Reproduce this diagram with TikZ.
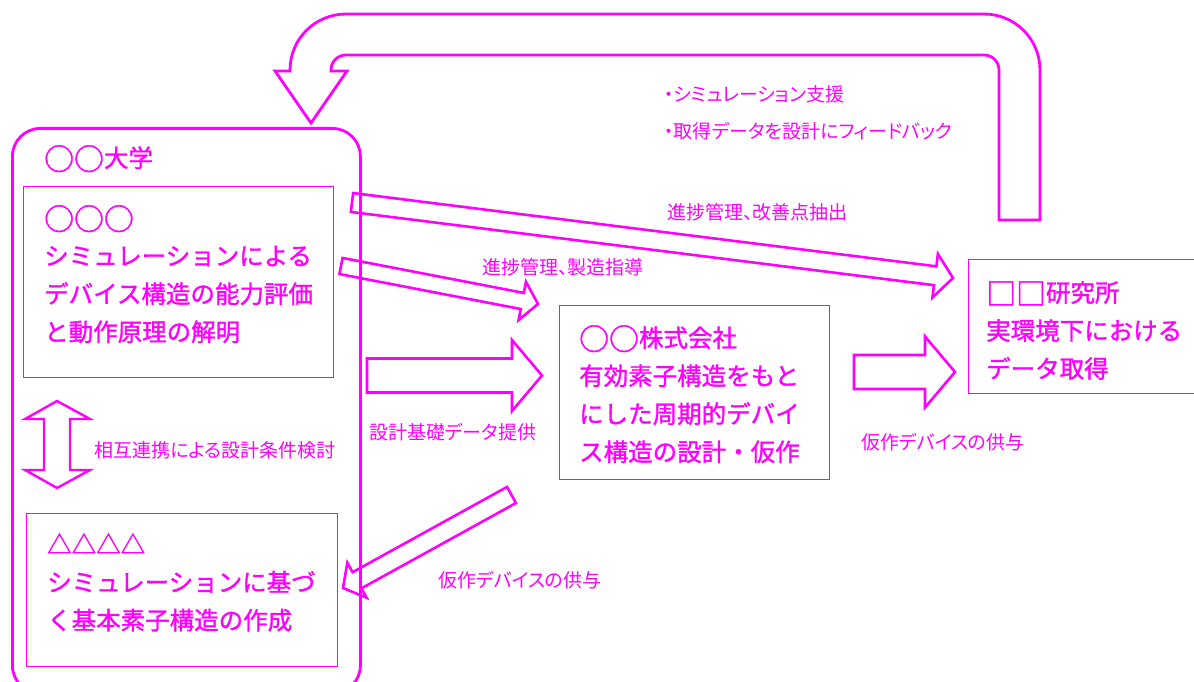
\documentclass[tikz,border=0pt]{standalone}
\usepackage{fontspec}
\setmainfont{Noto Sans CJK JP}
\newfontfamily\lblfont{Noto Sans CJK JP}[RawFeature=+palt]
\newfontfamily\bigfont{Noto Sans CJK JP}[FakeBold=1.3]
\usetikzlibrary{calc}
\definecolor{mag}{RGB}{255,0,255}
\newcommand\blockarrow[5]{%
  \coordinate (#1-hb) at ($(#2)!#5!(#1)$);
  \draw[blk] ($(#1)!#3!90:(#2)$) -- ($(#1-hb)!#3!90:(#2)$) -- ($(#1-hb)!#4!90:(#2)$) -- (#2)
    -- ($(#1-hb)!#4!-90:(#2)$) -- ($(#1-hb)!#3!-90:(#2)$) -- ($(#1)!#3!-90:(#2)$) -- cycle;}
\newcommand\bigsym[1]{\raisebox{-0.12em}{\scalebox{1.22}{#1}}}
\begin{document}
\begin{tikzpicture}[x=1pt,y=-1pt,
  blk/.style={draw=mag, line width=2.6pt, line join=miter, fill=none},
  thinbox/.style={draw=mag, line width=1.2pt, inner sep=0pt, anchor=north west},
  bigtext/.style={text=mag, font=\bigfont\fontsize{24.5}{38}\selectfont, align=left,
    anchor=north west, inner sep=0pt, execute at begin node={\rule{0pt}{21.5pt}}},
  lbl/.style={text=mag, font=\lblfont\fontsize{19}{23}\selectfont, anchor=base west, inner sep=0pt}]
\clip (0,0) rectangle (1194,682);
\fill[white] (0,0) rectangle (1194,682);

% outer university frame
\node[draw=mag, line width=2.8pt, rounded corners=28pt, minimum width=348pt, minimum height=565pt,
  anchor=north west, inner sep=0pt] (univ) at (11,127) {};
\node[bigtext] (univt) at (44,145) {\bigsym{○}\bigsym{○}大学};

% inner boxes
\node[thinbox, minimum width=310pt, minimum height=191pt] (simbox) at (23,186) {};
\node[bigtext] (simt) at (44,205) {\bigsym{○}\bigsym{○}\bigsym{○}\\シミュレーションによる\\デバイス構造の能力評価\\と動作原理の解明};

\node[thinbox, minimum width=311pt, minimum height=153pt] (tribox) at (26,513) {};
\node[bigtext] (trit) at (47,533) {△△△△\\シミュレーションに基づ\\く基本素子構造の作成};

\node[thinbox, minimum width=270pt, minimum height=174pt] (compbox) at (559,305) {};
\node[bigtext] (compt) at (579,325) {\bigsym{○}\bigsym{○}株式会社\\有効素子構造をもと\\にした周期的デバイ\\ス構造の設計・仮作};

\node[thinbox, minimum width=240pt, minimum height=134pt] (labbox) at (968,259) {};
\node[bigtext] (labt) at (986,281) {\bigsym{□}\bigsym{□}研究所\\実環境下における\\データ取得};

% double arrow inside university
\draw[blk, line width=2.4pt] (57,401) -- (90,419) -- (70,419) -- (70,470) -- (90,470) -- (57,488)
  -- (25,470) -- (44,470) -- (44,419) -- (25,419) -- cycle;

% block arrows
\coordinate (a1s) at (352,202.5); \coordinate (a1e) at (953,278);
\blockarrow{a1s}{a1e}{9.5pt}{22pt}{18pt}
\coordinate (a2s) at (341,266); \coordinate (a2e) at (538,304);
\blockarrow{a2s}{a2e}{8.2pt}{19.5pt}{16pt}
\coordinate (a3s) at (367,375.5); \coordinate (a3e) at (542,375.5);
\blockarrow{a3s}{a3e}{17pt}{35.5pt}{30pt}
\coordinate (a4s) at (854,372); \coordinate (a4e) at (955,372);
\blockarrow{a4s}{a4e}{17pt}{35.5pt}{30pt}
\coordinate (a5s) at (511.5,495); \coordinate (a5e) at (343,588);
\blockarrow{a5s}{a5e}{9.2pt}{20pt}{16pt}

% U-shaped feedback arrow
\draw[blk, line width=2.8pt] (999,220) -- (1040,220) -- (1040,70)
  arc[start angle=0, end angle=-90, radius=56] -- (346,14)
  arc[start angle=-90, end angle=-180, radius=56] -- (290,71) -- (275,71) -- (311,123)
  -- (347,71) -- (331,71) -- (331,70)
  arc[start angle=180, end angle=270, radius=15] -- (984,55)
  arc[start angle=270, end angle=360, radius=15] -- cycle;

% labels
\node[lbl] (fb1) at (664,102) {・シミュレーション支援};
\node[lbl] (fb2) at (664,139) {・取得データを設計にフィードバック};
\node[lbl] (l1) at (667,219) {進捗管理、改善点抽出};
\node[lbl] (l2) at (482,274) {進捗管理、製造指導};
\node[lbl] (l3) at (94,457) {相互連携による設計条件検討};
\node[lbl] (l4) at (369,439) {設計基礎データ提供};
\node[lbl] (l5) at (438,587) {仮作デバイスの供与};
\node[lbl] (l6) at (861,449) {仮作デバイスの供与};
\end{tikzpicture}
\end{document}
